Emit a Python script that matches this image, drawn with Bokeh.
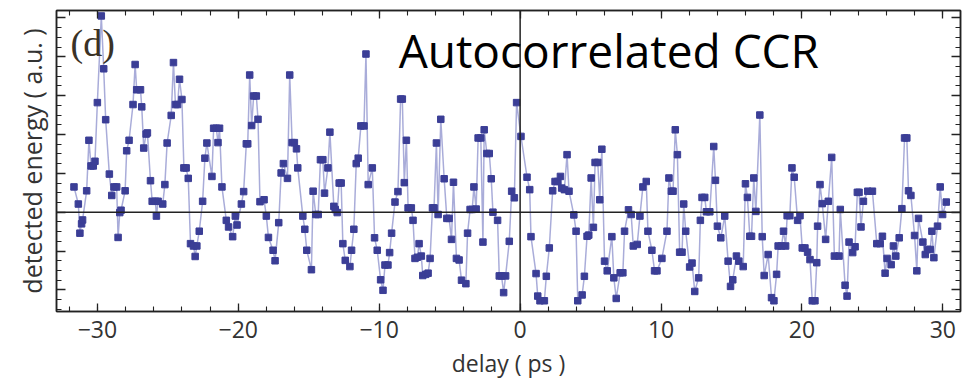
from bokeh.plotting import figure
from bokeh.models import (LinearAxis, SingleIntervalTicker, Span, Label,
                          CustomJSTickFormatter, ColumnDataSource)
from bokeh.embed import file_html
from bokeh.resources import INLINE

# ---- data (delay in ps, detected energy in a.u.) ----
delay = [
    -31.66, -31.35, -31.24, -31.12, -31.05, -30.76, -30.60, -30.45, -30.29, -30.17,
    -30.00, -29.72, -29.55, -29.41, -29.15, -28.98, -28.82, -28.63, -28.53, -28.41,
    -28.32, -28.03, -27.92, -27.75, -27.47, -27.32, -27.21, -26.94, -26.85, -26.71,
    -26.54, -26.45, -26.23, -26.11, -25.88, -25.81, -25.69, -25.36, -25.21, -25.05,
    -24.76, -24.60, -24.46, -24.31, -24.17, -24.00, -23.86, -23.70, -23.55, -23.39,
    -23.18, -23.06, -22.94, -22.77, -22.53, -22.37, -22.23,
    -21.87, -21.75, -21.56, -21.44, -21.33, -21.16, -20.85, -20.69, -20.40, -20.21,
    -20.09, -19.78, -19.62, -19.43, -19.33, -19.19, -19.05, -18.91, -18.72, -18.60,
    -18.46, -18.17, -18.01, -17.86, -17.53, -17.39, -17.13, -16.96, -16.80, -16.51,
    -16.35, -16.18, -16.02, -15.87, -15.78, -15.42, -15.28, -15.14, -14.81, -14.69,
    -14.50, -14.33, -14.17, -14.00, -13.88, -13.64, -13.50, -13.22, -13.12, -12.98,
    -12.84, -12.70, -12.58, -12.41, -12.08, -11.96, -11.80, -11.63, -11.49,
    -11.30, -11.08, -10.94, -10.78, -10.49, -10.33, -10.14, -9.90, -9.73, -9.59,
    -9.38, -9.26, -9.12, -8.88, -8.67, -8.48, -8.36, -8.22, -8.07, -7.95,
    -7.72, -7.60, -7.46, -7.29, -7.17, -7.01, -6.91, -6.70, -6.53, -6.39,
    -6.22, -6.11, -5.94, -5.82, -5.63, -5.39, -5.20, -5.04, -4.87, -4.73,
    -4.52, -4.33, -4.16, -3.85, -3.73, -3.55, -3.40, -3.28, -3.12, -2.98,
    -2.79, -2.64, -2.55, -2.36, -2.19, -2.05, -1.93, -1.60, -1.48, -1.32,
    -1.17, -1.03,
    -0.77, -0.60, -0.41, -0.25, 0.06, 0.49, 0.68, 0.77, 1.13, 1.25,
    1.41, 1.72, 1.86, 2.07, 2.31, 2.48, 2.67, 2.86, 2.95, 3.14,
    3.33, 3.47, 3.81, 3.97, 4.09, 4.40, 4.56, 4.75, 4.87, 5.04,
    5.20, 5.32, 5.51, 5.65, 5.80, 5.99, 6.18, 6.51, 6.65, 6.82,
    7.10, 7.29, 7.41, 7.69, 7.88, 8.03, 8.31, 8.50, 8.71, 8.95,
    9.07, 9.35, 9.54, 9.71,
    10.06, 10.42, 10.56, 10.73, 10.85, 11.01, 11.16, 11.32, 11.49, 11.61,
    11.75, 12.03, 12.20, 12.39, 12.67, 12.79, 12.91, 13.10, 13.22, 13.46,
    13.74, 13.86, 14.00, 14.24, 14.52, 14.76, 14.93, 15.09, 15.35, 15.52,
    15.83, 15.99, 16.13, 16.30, 16.42, 16.58, 16.73, 17.01, 17.18, 17.32,
    17.60, 17.84, 18.01, 18.20, 18.31, 18.55, 18.69, 18.84, 18.95, 19.14,
    19.29, 19.45, 19.69, 19.86, 20.02, 20.21, 20.40,
    20.57, 20.73, 20.92, 21.05, 21.11, 21.28, 21.44, 21.68, 21.87, 22.11,
    22.30, 22.63, 22.72, 23.06, 23.20, 23.34, 23.60, 23.77, 23.93, 24.05,
    24.19, 24.36, 24.67, 25.00, 25.31, 25.55, 25.71, 25.90, 26.04, 26.33,
    26.49, 26.66, 26.90, 27.09, 27.28, 27.44, 27.56, 27.73, 27.99, 28.15,
    28.27, 28.58, 28.75, 28.91, 29.10, 29.22, 29.36, 29.62, 29.81, 29.98,
    30.24,
]
energy = [
    0.65, 0.21, -0.54, -0.30, -0.20, 0.55, 1.85, 1.19, 1.19, 1.31,
    2.82, 5.05, 3.69, 2.38, 0.98, 0.43, 0.65, 0.65, -0.65, -0.01,
    0.05, 0.55, 1.58, 1.85, 2.77, 3.80, 3.15, 3.15, 2.71, 1.65,
    2.01, 2.04, 0.81, 0.28, 0.28, -0.10, 0.28, 0.21, 0.71, 1.78,
    2.49, 3.85, 2.77, 2.77, 3.42, 2.90, 1.14, 1.14, 0.87, -0.81,
    -0.87, -1.14, -0.87, -0.49, 0.28, 1.39, 1.78,
    0.92, 2.16, 2.16, 1.79, 2.16, 0.65, -0.21, -0.38, -0.63, -0.10,
    -0.33, 0.21, 0.53, 1.76, 1.76, 3.53, 2.23, 2.99, 2.99, 2.39,
    0.27, 0.32, -0.10, -0.65, -0.98, -1.25, -0.27, 1.01, 1.25, 0.87,
    3.53, 1.79, 1.79, 1.63, 1.14, -0.10, -0.44, -0.98, -1.48, 0.54,
    -0.06, -0.06, 1.35, 1.35, 0.49, 1.14, 2.06, 0.15, 0.07, -0.01,
    0.75, 0.75, -0.81, -1.24, -1.40, -0.98, -0.44, 1.25, 1.39,
    2.22, 2.22, 4.07, 0.71, 1.14, -0.66, -0.98, -1.74, -2.01, -1.36,
    -1.36, -1.04, -0.54, 0.26, 0.53, 2.91, 2.91, 0.76, 1.85, 0.11,
    0.11, -0.21, -1.19, -1.16, -0.81, -1.13, -1.63, -1.60, -1.57, -1.19,
    0.11, 0.11, 1.78, -0.06, 2.39, 0.86, -0.16, -0.16, -0.70, 0.77,
    -1.19, -1.23, -1.75, -1.84, -0.54, 0.07, 0.07, 0.65, 0.08, 1.91,
    1.91, -0.77, 2.12, 1.51, 1.51, 0.86, 0.00, -0.21, -1.64, -1.64,
    -2.07, -1.64,
    -0.75, 0.54, 0.37, 2.82, 1.95, 0.90, 0.58, -0.63, -1.58, -2.16,
    -2.28, -2.28, -1.65, -0.92, 0.55, 0.79, 0.79, 0.92, 0.62, 0.58,
    1.48, 0.54, -0.07, -0.49, -2.28, -2.13, -1.65, -0.62, -0.59, 0.88,
    -0.39, 1.28, 1.28, 0.32, 1.62, -1.26, -1.51, -0.63, -1.69, -2.22,
    -1.56, -1.56, -0.49, 0.06, -0.06, -0.87, -0.83, -0.10, 0.65, 0.79,
    -0.49, -0.98, -1.51, -1.51,
    -1.19, -0.49, 0.88, 0.54, 0.54, 2.12, 1.48, -1.03, -1.03, 0.21,
    -0.49, -1.41, -1.31, -2.04, -1.69, -0.21, 0.38, 0.38, 0.01, 0.01,
    1.69, 0.82, -0.36, -0.66, -0.10, -1.26, -1.91, -1.74, -1.13, -1.26,
    -1.40, 0.73, 0.38, -0.62, -0.62, 0.88, 0.02, 2.50, -0.63, -1.63,
    -1.09, -2.20, -2.28, -1.60, -0.87, -0.87, -0.49, -0.87, -0.09, -0.09,
    1.14, 0.90, -0.21, -0.09, -0.92, -0.92, -1.03,
    -1.22, -2.28, -2.28, -1.30, -0.36, 0.71, 0.22, -0.70, 0.28, 1.41,
    -1.13, -1.13, 0.07, -1.88, -2.16, -0.77, -1.04, -0.89, 0.51, 0.51,
    -0.38, 0.28, 0.54, 0.54, -0.81, -0.81, -0.62, -1.57, -1.19, -1.35,
    -0.87, -1.13, -0.66, 0.09, 1.91, 1.91, 0.55, 0.43, -0.60, -1.51,
    -0.16, -0.77, -1.09, -0.96, -0.96, -0.49, -1.17, -0.36, 0.65, -0.06,
    0.26,
]

x_label = "delay ( ps )"
y_label = "detected energy ( a.u. )"
title_text = "Autocorrelated CCR"
panel_text = "(d)"

src = ColumnDataSource(data=dict(delay=delay, energy=energy))

p = figure(width=974, height=381, output_backend="svg", toolbar_location=None,
           x_range=(-32.9, 31.25), y_range=(-2.556, 5.19),
           min_border_left=56, min_border_right=14, min_border_top=10,
           min_border_bottom=69, background_fill_color="white",
           border_fill_color="white")
p.xgrid.visible = False
p.ygrid.visible = False
p.outline_line_color = "#222222"
p.outline_line_width = 1.5

label_font = "Open Sans"
txt_col = "#333333"
empty = CustomJSTickFormatter(code="return ''")

def style_axis(ax, major_len, minor_len):
    ax.axis_line_color = "#222222"
    ax.axis_line_width = 1.5
    ax.major_tick_in = major_len
    ax.major_tick_out = 0
    ax.minor_tick_in = minor_len
    ax.minor_tick_out = 0
    ax.major_tick_line_color = "#222222"
    ax.minor_tick_line_color = "#222222"
    ax.major_tick_line_width = 1.3
    ax.minor_tick_line_width = 1.1

# bottom axis
xb = p.xaxis[0]
xb.ticker = SingleIntervalTicker(interval=10, num_minor_ticks=5)
style_axis(xb, 8, 5)
xb.axis_label = x_label
xb.axis_label_text_font = label_font
xb.axis_label_text_font_size = "23px"
xb.axis_label_text_font_style = "normal"
xb.axis_label_text_color = txt_col
xb.major_label_text_font = label_font
xb.major_label_text_font_size = "23px"
xb.major_label_text_color = txt_col
xb.major_label_standoff = 9
xb.axis_label_standoff = 6

# left axis
yl = p.yaxis[0]
yl.ticker = SingleIntervalTicker(interval=1, num_minor_ticks=4)
style_axis(yl, 9, 5)
yl.formatter = empty
yl.axis_label = y_label
yl.axis_label_text_font = label_font
yl.axis_label_text_font_size = "25px"
yl.axis_label_text_font_style = "normal"
yl.axis_label_text_color = txt_col
yl.major_label_standoff = 0
yl.axis_label_standoff = 8

# top axis
xt = LinearAxis(ticker=SingleIntervalTicker(interval=10, num_minor_ticks=5),
                formatter=empty)
style_axis(xt, 8, 5)
xt.major_label_standoff = 0
p.add_layout(xt, "above")

# right axis
yr = LinearAxis(ticker=SingleIntervalTicker(interval=1, num_minor_ticks=4),
                formatter=empty)
style_axis(yr, 9, 5)
yr.major_label_standoff = 0
p.add_layout(yr, "right")

# zero lines
p.add_layout(Span(location=0, dimension="width", line_color="#222222", line_width=1.5))
p.add_layout(Span(location=0, dimension="height", line_color="#222222", line_width=1.5))

# data
p.line("delay", "energy", source=src, line_color="#9497cf", line_width=1.5, line_alpha=0.8)
p.scatter("delay", "energy", source=src, marker="square", size=6.5,
          fill_color="#3b3e96", line_color="#3b3e96")

# annotations
p.add_layout(Label(x=-31.9, y=4.36, text=panel_text, text_font="Liberation Serif",
                   text_font_size="38px", text_color="#3a3226", text_baseline="middle"))
p.add_layout(Label(x=-8.62, y=4.18, text=title_text, text_font="Open Sans",
                   text_font_size="46px", text_color="black", text_baseline="alphabetic"))

open("out.html", "w").write(file_html(p, INLINE))
